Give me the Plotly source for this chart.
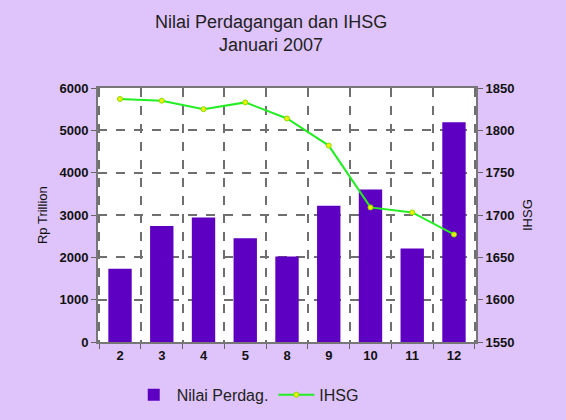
import plotly.graph_objects as go

days = ["2", "3", "4", "5", "8", "9", "10", "11", "12"]
nilai = [1730, 2740, 2940, 2450, 2020, 3220, 3600, 2210, 5190]
ihsg = [1837, 1835, 1825, 1833, 1814, 1782, 1709, 1703, 1677]

BG = "#dfc4fb"
BAR = "#5e00c2"
LINE = "#22ee22"
GRID = "#6f6f6f"
FONT = "Liberation Sans"

fig = go.Figure()
fig.add_trace(go.Bar(x=days, y=nilai, name="Nilai Perdag.", marker=dict(color=BAR, line=dict(width=0)),
                     width=0.56, yaxis="y"))
fig.add_trace(go.Scatter(x=days, y=ihsg, name="IHSG", mode="lines+markers", yaxis="y2",
                         line=dict(color=LINE, width=2),
                         marker=dict(color="#f0f000", size=5, line=dict(color="#88dd00", width=1))))

tickf = dict(size=13, color="#111", weight="bold")

fig.update_layout(
    width=566, height=420,
    paper_bgcolor=BG, plot_bgcolor="white",
    margin=dict(l=98, r=90, t=88, b=78, autoexpand=False),
    font=dict(family=FONT, size=12, color="#111111"),
    showlegend=True,
    legend=dict(orientation="h", x=0.231, xref="container", xanchor="left",
                y=0.06, yref="container", yanchor="middle",
                bgcolor="rgba(0,0,0,0)", font=dict(size=16, color="#222222"), itemwidth=36),
    bargap=0.44,
    xaxis=dict(type="category", tickson="boundaries", ticks="outside", ticklen=5, tickcolor="#666",
               showline=True, linecolor="#777", linewidth=2, mirror=True,
               showgrid=True, gridcolor=GRID, griddash="dash", gridwidth=2,
               tickfont=tickf),
    yaxis=dict(range=[0, 6000], dtick=1000, ticks="outside", ticklen=5, tickcolor="#666",
               showline=True, linecolor="#777", linewidth=2,
               showgrid=True, gridcolor=GRID, griddash="dash", gridwidth=2, zeroline=False,
               tickfont=tickf),
    yaxis2=dict(range=[1550, 1850], dtick=50, overlaying="y", side="right", ticks="outside", ticklen=5,
                tickcolor="#666", showline=True, linecolor="#777", linewidth=2, showgrid=False,
                zeroline=False, tickfont=tickf),
    annotations=[
        dict(text="Nilai Perdagangan dan IHSG", xref="paper", yref="paper", x=0.4577, y=1.26,
             xanchor="center", yanchor="middle", showarrow=False, font=dict(size=18, color="#222")),
        dict(text="Januari 2007", xref="paper", yref="paper", x=0.4577, y=1.169,
             xanchor="center", yanchor="middle", showarrow=False, font=dict(size=18, color="#222")),
        dict(text="Rp Trillion", xref="paper", yref="paper", x=-0.148, y=0.5, textangle=-90,
             xanchor="center", yanchor="middle", showarrow=False, font=dict(size=13, color="#111")),
        dict(text="IHSG", xref="paper", yref="paper", x=1.135, y=0.5, textangle=-90,
             xanchor="center", yanchor="middle", showarrow=False, font=dict(size=13, color="#111")),
    ],
)

fig.write_html("out.html", config={"displayModeBar": False},
               post_script="document.body.style.margin='0';document.body.style.background='" + BG + "';")
